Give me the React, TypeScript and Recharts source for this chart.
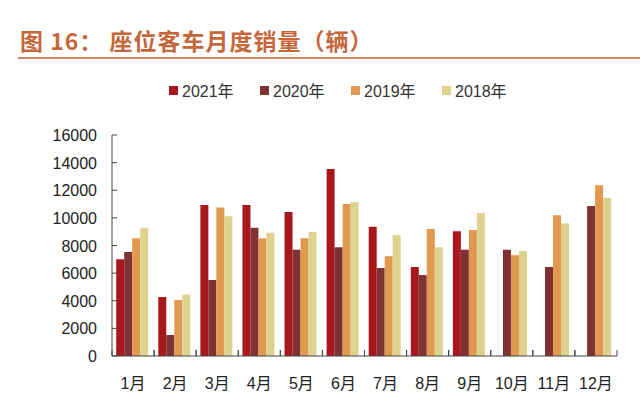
import React from 'react'
import { BarChart, Bar, XAxis, YAxis } from 'recharts'

const months = ['1月', '2月', '3月', '4月', '5月', '6月', '7月', '8月', '9月', '10月', '11月', '12月']

const sales2021 = [7000, 4270, 10930, 10930, 10430, 13540, 9360, 6440, 9030, null, null, null]
const sales2020 = [7530, 1520, 5500, 9290, 7700, 7870, 6370, 5860, 7700, 7700, 6440, 10860]
const sales2019 = [8520, 4050, 10760, 8520, 8520, 11000, 7220, 9190, 9120, 7290, 10190, 12360]
const sales2018 = [9290, 4440, 10110, 8930, 9000, 11130, 8760, 7870, 10350, 7600, 9610, 11460]

const yTicks = [0, 2000, 4000, 6000, 8000, 10000, 12000, 14000, 16000]

const SERIES = [
  { key: 'y2021', name: '2021年', color: '#A8171C', values: sales2021 },
  { key: 'y2020', name: '2020年', color: '#7E3233', values: sales2020 },
  { key: 'y2019', name: '2019年', color: '#E0994F', values: sales2019 },
  { key: 'y2018', name: '2018年', color: '#DDD38F', values: sales2018 },
]

const data = months.map((m, i) => {
  const row: Record<string, string | number | null> = { month: m }
  SERIES.forEach((s) => {
    row[s.key] = s.values[i]
  })
  return row
})

const FONT = '"Liberation Sans", Arial, "Noto Sans CJK SC", sans-serif'
const AXIS = '#444'

const W = 640
const H = 401
const MARGIN = { top: 135, right: 23, left: 62, bottom: 15 }
const Y_WIDTH = 50
const HALF_BAND = (W - MARGIN.left - MARGIN.right - Y_WIDTH) / months.length / 2

function YTick({ x, y, payload }: any) {
  return (
    <g>
      <line x1={x} x2={x + 5} y1={y} y2={y} stroke={AXIS} />
      <text x={x - 15} y={y} dy={6} textAnchor="end" fontSize={16} fill="#222" fontFamily={FONT}>
        {payload.value}
      </text>
    </g>
  )
}

function XTick({ x, y, payload }: any) {
  return (
    <g>
      <line x1={x - HALF_BAND} x2={x - HALF_BAND} y1={y} y2={y - 6} stroke={AXIS} />
      <line x1={x + HALF_BAND} x2={x + HALF_BAND} y1={y} y2={y - 6} stroke={AXIS} />
      <text x={x} y={y + 33} textAnchor="middle" fontSize={16} fill="#222" fontFamily={FONT}>
        {payload.value}
      </text>
    </g>
  )
}

export default function App() {
  return (
    <div style={{ position: 'absolute', left: 0, top: 0, width: W, height: H, background: '#fff', fontFamily: FONT }}>
      <div
        style={{
          position: 'absolute',
          left: 20,
          top: 26,
          fontSize: 23,
          fontWeight: 'bold',
          color: '#C4683C',
          fontFamily: '"Noto Sans CJK SC", sans-serif',
          whiteSpace: 'pre',
          lineHeight: '28px',
          letterSpacing: 1,
        }}
      >
        图 16： 座位客车月度销量（辆）
      </div>
      <div style={{ position: 'absolute', left: 18, right: 0, top: 57, height: 2, background: '#CF8662' }} />
      <div style={{ position: 'absolute', left: 169, top: 80, display: 'flex', alignItems: 'center', height: 20 }}>
        {SERIES.map((s) => (
          <div key={s.key} style={{ display: 'flex', alignItems: 'center', width: 91 }}>
            <div style={{ width: 9, height: 9, background: s.color, marginRight: 4 }} />
            <span style={{ fontSize: 16, color: '#333' }}>{s.name}</span>
          </div>
        ))}
      </div>
      <BarChart width={W} height={H} data={data} margin={MARGIN} barCategoryGap="10%" barGap={0}>
        <XAxis
          dataKey="month"
          height={30}
          stroke={AXIS}
          tickLine={false}
          tickSize={0}
          tickMargin={0}
          interval={0}
          tick={<XTick />}
        />
        <YAxis
          width={Y_WIDTH}
          domain={[0, 16000]}
          ticks={yTicks}
          stroke={AXIS}
          tickLine={false}
          tickSize={0}
          tickMargin={0}
          interval={0}
          tick={<YTick />}
        />
        {SERIES.map((s) => (
          <Bar key={s.key} dataKey={s.key} name={s.name} fill={s.color} isAnimationActive={false} />
        ))}
      </BarChart>
    </div>
  )
}
